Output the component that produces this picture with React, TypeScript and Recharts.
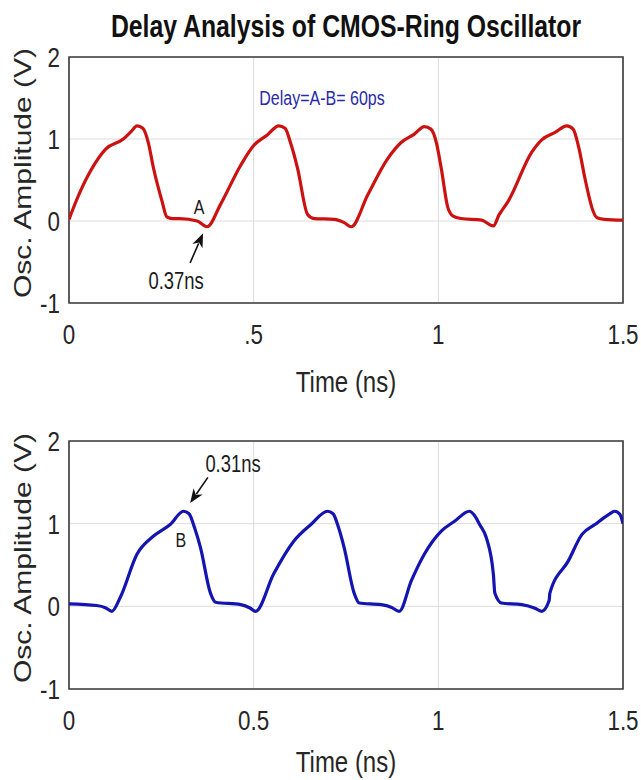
import React from "react";
import {
  LineChart,
  Line,
  XAxis,
  YAxis,
  CartesianGrid,
  ReferenceArea,
  ReferenceDot,
  ReferenceLine,
  Label,
} from "recharts";

// ---- data (time in ns, amplitude in V) ----
const redTime = [
  0, 0.02, 0.057, 0.1, 0.147, 0.17, 0.184, 0.2, 0.215, 0.229, 0.252, 0.265, 0.28, 0.3, 0.347, 0.374,
  0.41, 0.465, 0.5, 0.537, 0.568, 0.585, 0.6, 0.619, 0.646, 0.664, 0.718, 0.745, 0.764,
  0.809, 0.863, 0.9, 0.935, 0.962, 0.98, 0.995, 1.008, 1.026, 1.04, 1.062, 1.117, 1.149,
  1.165, 1.171, 1.189, 1.253, 1.28, 1.316, 1.348, 1.365, 1.38, 1.397, 1.41, 1.416, 1.43, 1.45, 1.5,
];
const redVolt = [
  0.02, 0.25, 0.6, 0.88, 1.0, 1.1, 1.16, 1.13, 0.95, 0.64, 0.24, 0.05, 0.03, 0.03, 0.0, -0.07,
  0.2, 0.68, 0.92, 1.05, 1.16, 1.13, 0.95, 0.64, 0.08, 0.03, 0.02, -0.02, -0.07,
  0.32, 0.76, 0.96, 1.06, 1.15, 1.12, 0.95, 0.64, 0.16, 0.06, 0.03, 0.01, -0.06,
  0.08, 0.12, 0.24, 0.84, 0.99, 1.08, 1.16, 1.12, 0.9, 0.52, 0.26, 0.16, 0.04, 0.02, 0.01,
];
const blueTime = [
  0, 0.075, 0.1, 0.116, 0.139, 0.184, 0.229, 0.274, 0.31, 0.325, 0.34, 0.356, 0.383, 0.397,
  0.465, 0.49, 0.505, 0.554, 0.609, 0.655, 0.7, 0.715, 0.73, 0.745, 0.772, 0.786,
  0.845, 0.872, 0.894, 0.927, 0.962, 1.008, 1.044, 1.084, 1.098, 1.113, 1.13, 1.149, 1.153, 1.171,
  1.226, 1.26, 1.28, 1.3, 1.302, 1.352, 1.389, 1.424, 1.461, 1.478, 1.492, 1.5,
];
const blueVolt = [
  0.03, 0.01, -0.02, -0.06, 0.11, 0.63, 0.85, 0.99, 1.15, 1.12, 0.95, 0.71, 0.16, 0.05,
  0.02, -0.02, -0.06, 0.39, 0.79, 0.99, 1.15, 1.12, 0.95, 0.71, 0.16, 0.04,
  0.02, -0.01, -0.06, 0.31, 0.63, 0.91, 1.03, 1.15, 1.1, 0.98, 0.83, 0.39, 0.16, 0.04,
  0.02, -0.02, -0.06, 0.07, 0.16, 0.55, 0.87, 0.99, 1.11, 1.15, 1.11, 1.0,
];

const xTicks = [0, 0.5, 1, 1.5];
const topXTickLabels = ["0", ".5", "1", "1.5"];
const bottomXTickLabels = ["0", "0.5", "1", "1.5"];
const yTicks = [-1, 0, 1, 2];
const yTickLabels = ["-1", "0", "1", "2"];

const titleText = "Delay Analysis of CMOS-Ring Oscillator";
const xLabelText = "Time (ns)";
const yLabelText = "Osc. Amplitude (V)";
const delayText = "Delay=A-B= 60ps";

// annotation anchors (data coordinates)
const delayAnchor = { t: 0.685, v: 1.41 };
const labelA = { text: "A", t: 0.352, v: 0.085 };
const arrowA = [{ t: 0.328, v: -0.51 }, { t: 0.363, v: -0.15 }];
const noteA = { text: "0.37ns", t: 0.29, v: -0.83 };
const labelB = { text: "B", t: 0.303, v: 0.72 };
const arrowB = [{ t: 0.376, v: 1.56 }, { t: 0.328, v: 1.25 }];
const noteB = { text: "0.31ns", t: 0.444, v: 1.62 };

const redData = redTime.map((t, i) => ({ t, v: redVolt[i] }));
const blueData = blueTime.map((t, i) => ({ t, v: blueVolt[i] }));

const FONT = "'Liberation Sans', Arial, Helvetica, sans-serif";
const SX = 0.8;
const TXT = "#262626";

const makeXTick = (labels: string[]) => (props: any) => {
  const { x, y, payload } = props;
  const idx = xTicks.indexOf(payload.value);
  return (
    <text
      transform={`translate(${x},${y + 41}) scale(${SX},1)`}
      textAnchor="middle"
      fontSize={28}
      fontFamily={FONT}
      fill={TXT}
    >
      {idx >= 0 ? labels[idx] : String(payload.value)}
    </text>
  );
};

const YTick = (props: any) => {
  const { x, y, payload } = props;
  const idx = yTicks.indexOf(payload.value);
  return (
    <text
      transform={`translate(${x - 9},${y + 10}) scale(${SX},1)`}
      textAnchor="end"
      fontSize={28}
      fontFamily={FONT}
      fill={TXT}
    >
      {idx >= 0 ? yTickLabels[idx] : String(payload.value)}
    </text>
  );
};

const YLabelContent = (props: any) => {
  const vb = props.viewBox || {};
  const cy = (vb.y || 0) + (vb.height || 0) / 2 - 7;
  return (
    <text
      transform={`translate(31,${cy}) scale(${SX},1) rotate(-90)`}
      textAnchor="middle"
      fontSize={30}
      fontFamily={FONT}
      fill={TXT}
    >
      {yLabelText}
    </text>
  );
};

const makeXLabel = (offset: number) => (props: any) => {
  const vb = props.viewBox || {};
  const cx = (vb.x || 0) + (vb.width || 0) / 2;
  const top = vb.y || 0;
  return (
    <text
      transform={`translate(${cx},${top + offset}) scale(${SX},1)`}
      textAnchor="middle"
      fontSize={30}
      fontFamily={FONT}
      fill={TXT}
    >
      {xLabelText}
    </text>
  );
};

const textShape = (text: string, size: number, color: string) => (p: any) => (
  <text
    transform={`translate(${p.cx},${p.cy}) scale(${SX},1)`}
    textAnchor="middle"
    fontSize={size}
    fontFamily={FONT}
    fill={color}
  >
    {text}
  </text>
);

const arrowShape = (p: any) => {
  const { x1, y1, x2, y2 } = p;
  if ([x1, y1, x2, y2].some((v) => typeof v !== "number" || isNaN(v))) return <g />;
  const dx = x2 - x1;
  const dy = y2 - y1;
  const len = Math.sqrt(dx * dx + dy * dy) || 1;
  const ux = dx / len;
  const uy = dy / len;
  const hl = 14;
  const hw = 5.5;
  const bx = x2 - ux * hl;
  const by = y2 - uy * hl;
  const px = -uy;
  const py = ux;
  return (
    <g>
      <line x1={x1} y1={y1} x2={bx + ux * 3} y2={by + uy * 3} stroke="#111" strokeWidth={1.6} />
      <polygon
        points={`${x2},${y2} ${bx + px * hw},${by + py * hw} ${bx + ux * 4},${by + uy * 4} ${bx - px * hw},${by - py * hw}`}
        fill="#111"
      />
    </g>
  );
};

type PanelProps = {
  data: { t: number; v: number }[];
  color: string;
  tickLabels: string[];
  height: number;
  xLabelOffset: number;
  margin: { top: number; right: number; bottom: number; left: number };
  children?: React.ReactNode;
};

const Panel = ({ data, color, tickLabels, height, xLabelOffset, margin, children }: PanelProps) => (
  <LineChart width={641} height={height} data={data} margin={margin}>
    <CartesianGrid stroke="#dcdcdc" strokeWidth={1} />
    <XAxis
      dataKey="t"
      type="number"
      domain={[0, 1.5]}
      ticks={xTicks}
      allowDataOverflow
      height={40}
      tickLine={false}
      axisLine={false}
      tickSize={0}
      tickMargin={0}
      tick={makeXTick(tickLabels)}
      interval={0}
    >
      <Label content={makeXLabel(xLabelOffset)} />
    </XAxis>
    <YAxis
      type="number"
      domain={[-1, 2]}
      ticks={yTicks}
      allowDataOverflow
      width={40}
      tickLine={false}
      axisLine={false}
      tickSize={0}
      tickMargin={0}
      tick={YTick}
      interval={0}
    >
      <Label content={YLabelContent} />
    </YAxis>
    <ReferenceArea
      x1={0}
      x2={1.5}
      y1={-1}
      y2={2}
      fill="none"
      fillOpacity={0}
      stroke="#3a3a3a"
      strokeWidth={1.6}
      strokeOpacity={1}
    />
    <Line
      type="monotone"
      dataKey="v"
      stroke={color}
      strokeWidth={3.2}
      dot={false}
      activeDot={false}
      isAnimationActive={false}
      strokeLinejoin="round"
    />
    {children}
  </LineChart>
);

export default function App() {
  return (
    <div
      style={{
        position: "absolute",
        left: 0,
        top: 0,
        width: 641,
        height: 780,
        background: "#ffffff",
        overflow: "hidden",
      }}
    >
      <svg width={641} height={50} style={{ position: "absolute", left: 0, top: 0 }}>
        <text
          transform={`translate(346,37) scale(${SX},1)`}
          textAnchor="middle"
          fontSize={31}
          fontWeight="bold"
          fontFamily={FONT}
          fill="#111"
        >
          {titleText}
        </text>
      </svg>
      <div style={{ position: "absolute", left: 0, top: 0 }}>
        <Panel
          data={redData}
          color="#cc1111"
          tickLabels={topXTickLabels}
          height={400}
          xLabelOffset={89}
          margin={{ top: 57, right: 18, bottom: 57, left: 29 }}
        >
          <ReferenceDot
            x={delayAnchor.t}
            y={delayAnchor.v}
            r={0}
            shape={textShape(delayText, 20, "#2a2aa8")}
          />
          <ReferenceDot x={labelA.t} y={labelA.v} r={0} shape={textShape(labelA.text, 20, "#1a1a1a")} />
          <ReferenceDot x={noteA.t} y={noteA.v} r={0} shape={textShape(noteA.text, 23, "#1a1a1a")} />
          <ReferenceLine
            segment={[
              { x: arrowA[0].t, y: arrowA[0].v },
              { x: arrowA[1].t, y: arrowA[1].v },
            ]}
            shape={arrowShape}
          />
        </Panel>
      </div>
      <div style={{ position: "absolute", left: 0, top: 400 }}>
        <Panel
          data={blueData}
          color="#1414b0"
          tickLabels={bottomXTickLabels}
          height={380}
          xLabelOffset={83}
          margin={{ top: 41, right: 18, bottom: 51, left: 29 }}
        >
          <ReferenceDot x={labelB.t} y={labelB.v} r={0} shape={textShape(labelB.text, 20, "#1a1a1a")} />
          <ReferenceDot x={noteB.t} y={noteB.v} r={0} shape={textShape(noteB.text, 23, "#1a1a1a")} />
          <ReferenceLine
            segment={[
              { x: arrowB[0].t, y: arrowB[0].v },
              { x: arrowB[1].t, y: arrowB[1].v },
            ]}
            shape={arrowShape}
          />
        </Panel>
      </div>
    </div>
  );
}
